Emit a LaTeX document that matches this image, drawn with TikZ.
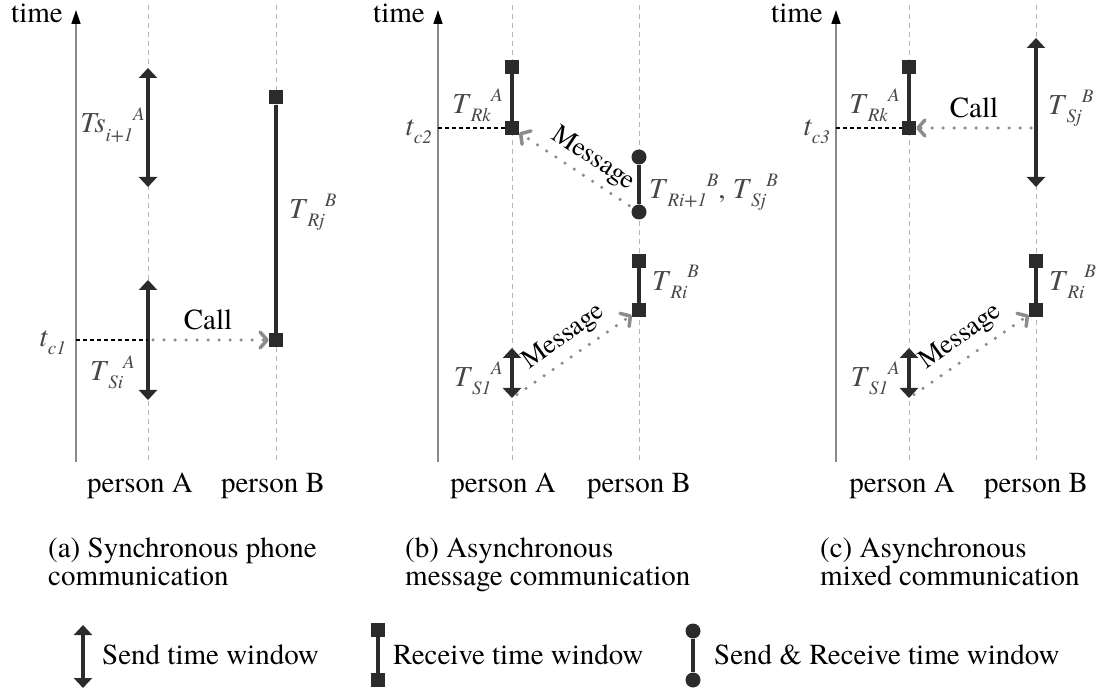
\documentclass[tikz,border=0pt]{standalone}
\usepackage{fontspec}
\setmainfont{texgyretermes}[Extension=.otf, UprightFont=*-regular, ItalicFont=*-italic, BoldFont=*-bold, BoldItalicFont=*-bolditalic]
\usetikzlibrary{arrows.meta}
\definecolor{dk}{HTML}{2B2B2B}
\definecolor{lbl}{HTML}{474747}
\definecolor{msgc}{HTML}{8C8C8C}
\definecolor{pl}{HTML}{B4B4B4}
\definecolor{axc}{HTML}{8A8A8A}
\newcommand\tlab[3]{\textit{#1}\raisebox{-0.28em}{\fontsize{19}{19}\selectfont\textit{#2}}\raisebox{0.42em}{\fontsize{19}{19}\selectfont\textit{#3}}}
\newcommand\tclab[1]{\textit{t}\raisebox{-0.28em}{\fontsize{19}{19}\selectfont\textit{#1}}}
\begin{document}
\begin{tikzpicture}[x=1pt,y=-1pt,
  every node/.style={font=\fontsize{29}{29}\selectfont, inner sep=0pt},
  pline/.style={pl, line width=1pt, dash pattern=on 5pt off 4pt},
  axisline/.style={axc, line width=1.4pt, -{Triangle[length=14pt,width=9pt,black]}},
  sendw/.style={dk, line width=4pt, {Triangle[length=10pt,width=18pt]}-{Triangle[length=10pt,width=18pt]}},
  recvw/.style={dk, line width=4pt},
  rsq/.style={rectangle, fill=dk, minimum size=14pt, inner sep=0pt},
  rcirc/.style={circle, fill=dk, minimum size=15pt, inner sep=0pt},
  msg/.style={msgc, line width=3.5pt, line cap=round, dash pattern=on 0pt off 11pt, -{Straight Barb[round,length=7pt,width=16pt,line width=3.5pt]}},
  tcl/.style={black, line width=2pt, dash pattern=on 4pt off 3pt},
  lab/.style={text=lbl},
  msgtxt/.style={font=\fontsize{27}{27}\selectfont},
]
\useasboundingbox (0,0) rectangle (1101,692);

%% ---------- panel (a) ----------
\coordinate (aA0) at (148,5); \coordinate (aA1) at (148,462);
\coordinate (aB0) at (276,5); \coordinate (aB1) at (276,462);
\draw[pline] (aA0) -- (aA1);
\draw[pline] (aB0) -- (aB1);
\coordinate (aax0) at (76,462); \coordinate (aax1) at (76,10);
\draw[axisline] (aax0) -- (aax1);
\node[anchor=base east] (atime) at (63,23) {time};
\coordinate (as1t) at (148,68); \coordinate (as1b) at (148,187);
\draw[sendw] (as1t) -- (as1b);
\coordinate (as2t) at (148,280); \coordinate (as2b) at (148,400);
\draw[sendw] (as2t) -- (as2b);
\node[rsq] (ar1) at (276,97.5) {};
\node[rsq] (ar2) at (276,340) {};
\draw[recvw] (ar1) -- (ar2);
\coordinate (atc) at (76,340); \coordinate (atcA) at (148,340);
\draw[tcl] (atc) -- (atcA);
\draw[msg, shorten <=5pt] (atcA) -- (ar2);
\node (acall) at (208,320) {Call};
\node[lab, anchor=east] (alab1) at (145,125) {\tlab{Ts}{i+1}{A}};
\node[lab, anchor=west] (alab2) at (289,212) {\tlab{T}{Rj}{B}};
\node[lab, anchor=east] (alab3) at (135,372) {\tlab{T}{Si}{A}};
\node[lab, anchor=east] (atclab) at (66,343) {\tclab{c1}};
\node[anchor=base] (apA) at (140,493) {person A};
\node[anchor=base] (apB) at (273,493) {person B};
\node[anchor=base west] (acap1) at (48,557) {(a) Synchronous phone};
\node[anchor=base west] (acap2) at (48,585) {communication};

%% ---------- panel (b) ----------
\coordinate (bA0) at (512,5); \coordinate (bA1) at (512,462);
\coordinate (bB0) at (639,5); \coordinate (bB1) at (639,462);
\draw[pline] (bA0) -- (bA1);
\draw[pline] (bB0) -- (bB1);
\coordinate (bax0) at (438,462); \coordinate (bax1) at (438,10);
\draw[axisline] (bax0) -- (bax1);
\node[anchor=base east] (btime) at (425,23) {time};
\node[rsq] (br1) at (512,67) {};
\node[rsq] (br2) at (512,128) {};
\draw[recvw] (br1) -- (br2);
\node[rcirc] (bc1) at (639,157) {};
\node[rcirc] (bc2) at (639,212) {};
\draw[recvw] (bc1) -- (bc2);
\node[rsq] (br3) at (639,261) {};
\node[rsq] (br4) at (639,310) {};
\draw[recvw] (br3) -- (br4);
\coordinate (bs1t) at (512,348); \coordinate (bs1b) at (512,398);
\draw[sendw] (bs1t) -- (bs1b);
\coordinate (btc) at (438,128);
\draw[tcl] (btc) -- (br2);
\draw[msg, shorten <=4pt] (bc2) -- (br2);
\draw[msg, shorten <=6pt] (bs1b) -- (br4);
\node[msgtxt, rotate=-33.5] (bm1) at (593,159) {Message};
\node[msgtxt, rotate=35.5] (bm2) at (564,337) {Message};
\node[lab, anchor=east] (blab1) at (503,105) {\tlab{T}{Rk}{A}};
\node[lab, anchor=west] (blab2) at (649,192) {\tlab{T}{Ri+1}{B}, \tlab{T}{Sj}{B}};
\node[lab, anchor=west] (blab3) at (652,282) {\tlab{T}{Ri}{B}};
\node[lab, anchor=east] (blab4) at (503,378) {\tlab{T}{S1}{A}};
\node[lab, anchor=east] (btclab) at (432,132) {\tclab{c2}};
\node[anchor=base] (bpA) at (503,493) {person A};
\node[anchor=base] (bpB) at (639,493) {person B};
\node[anchor=base west] (bcap1) at (405,557) {(b) Asynchronous};
\node[anchor=base west] (bcap2) at (405,585) {message communication};

%% ---------- panel (c) ----------
\coordinate (cA0) at (909,5); \coordinate (cA1) at (909,462);
\coordinate (cB0) at (1036,5); \coordinate (cB1) at (1036,462);
\draw[pline] (cA0) -- (cA1);
\draw[pline] (cB0) -- (cB1);
\coordinate (cax0) at (836,462); \coordinate (cax1) at (836,10);
\draw[axisline] (cax0) -- (cax1);
\node[anchor=base east] (ctime) at (823,23) {time};
\node[rsq] (cr1) at (909,67) {};
\node[rsq] (cr2) at (909,128) {};
\draw[recvw] (cr1) -- (cr2);
\coordinate (cs2t) at (1036,38); \coordinate (cs2b) at (1036,187);
\draw[sendw] (cs2t) -- (cs2b);
\coordinate (ccallB) at (1036,128);
\node[rsq] (cr3) at (1036,261) {};
\node[rsq] (cr4) at (1036,310) {};
\draw[recvw] (cr3) -- (cr4);
\coordinate (cs1t) at (909,348); \coordinate (cs1b) at (909,398);
\draw[sendw] (cs1t) -- (cs1b);
\coordinate (ctc) at (836,128);
\draw[tcl] (ctc) -- (cr2);
\draw[msg, shorten <=5pt] (ccallB) -- (cr2);
\draw[msg, shorten <=6pt] (cs1b) -- (cr4);
\node (ccall) at (974,108) {Call};
\node[msgtxt, rotate=35.5] (cm2) at (961,337) {Message};
\node[lab, anchor=east] (clab1) at (900,105) {\tlab{T}{Rk}{A}};
\node[lab, anchor=west] (clab2) at (1048,108) {\tlab{T}{Sj}{B}};
\node[lab, anchor=west] (clab3) at (1049,282) {\tlab{T}{Ri}{B}};
\node[lab, anchor=east] (clab4) at (900,378) {\tlab{T}{S1}{A}};
\node[lab, anchor=east] (ctclab) at (830,132) {\tclab{c3}};
\node[anchor=base] (cpA) at (902,493) {person A};
\node[anchor=base] (cpB) at (1036,493) {person B};
\node[anchor=base west] (ccap1) at (820,557) {(c) Asynchronous};
\node[anchor=base west] (ccap2) at (820,585) {mixed communication};

%% ---------- legend ----------
\coordinate (ls0) at (83,625); \coordinate (ls1) at (83,688);
\draw[sendw] (ls0) -- (ls1);
\node[anchor=base west] (lst) at (102,664) {Send time window};
\node[rsq] (lr1) at (378,630) {};
\node[rsq] (lr2) at (378,680) {};
\draw[recvw] (lr1) -- (lr2);
\node[anchor=base west] (lrt) at (393,664) {Receive time window};
\node[rcirc] (lc1) at (693,631) {};
\node[rcirc] (lc2) at (693,680) {};
\draw[recvw] (lc1) -- (lc2);
\node[anchor=base west] (lct) at (714,664) {Send \& Receive time window};
\end{tikzpicture}
\end{document}
